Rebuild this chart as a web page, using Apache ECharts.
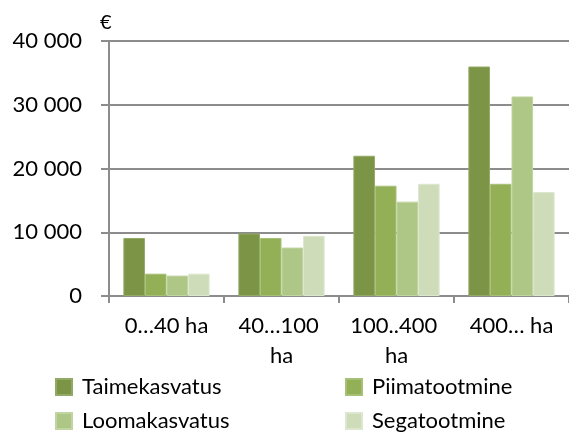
<!DOCTYPE html>
<html>
<head>
<meta charset="utf-8">
<script src="https://cdn.jsdelivr.net/npm/echarts@6/dist/echarts.min.js"></script>
<style>
html,body{margin:0;padding:0;background:#fff;}
#chart{width:569px;height:434px;}
</style>
</head>
<body>
<div id="chart"></div>
<script>
var categories = ['0…40 ha', '40…100 ha', '100..400 ha', '400… ha'];
var seriesNames = ['Taimekasvatus', 'Piimatootmine', 'Loomakasvatus', 'Segatootmine'];
var taimekasvatus = [9100, 9800, 22000, 36000];
var piimatootmine = [3500, 9100, 17300, 17600];
var loomakasvatus = [3200, 7600, 14800, 31300];
var segatootmine = [3500, 9450, 17600, 16300];
var yTicks = [0, 10000, 20000, 30000, 40000];
var colors = ['#7b9445', '#93b057', '#aec686', '#cfdcb9'];
var borderColors = ['#93aa66', '#a7c077', '#c0d5a0', '#dde7cf'];

var seriesData = [taimekasvatus, piimatootmine, loomakasvatus, segatootmine];
var FONT = 'Lato';

function fmt(v) {
  var s = String(v);
  return s.replace(/\B(?=(\d{3})+(?!\d))/g, ' ');
}

var chart = echarts.init(document.getElementById('chart'), null, {renderer: 'canvas'});
var series = seriesNames.map(function (n, i) {
  return {
    name: n,
    type: 'bar',
    data: seriesData[i],
    barGap: '0%',
    barCategoryGap: '25%',
    itemStyle: {color: colors[i], borderColor: borderColors[i], borderWidth: 1},
    emphasis: {disabled: true}
  };
});

var legendText = {color: '#000', fontFamily: FONT, fontSize: 22, lineHeight: 22, padding: [0, 0, 0, 5]};

chart.setOption({
  animation: false,
  textStyle: {fontFamily: FONT},
  grid: {left: 109, top: 41, width: 469, height: 255, containLabel: false},
  xAxis: {
    type: 'category',
    data: categories,
    axisLine: {lineStyle: {color: '#8c8c8c', width: 2}},
    axisTick: {show: true, length: 7, lineStyle: {color: '#8c8c8c', width: 2}},
    axisLabel: {
      color: '#000', fontFamily: FONT, fontSize: 22, margin: 15,
      lineHeight: 30, width: 108, overflow: 'break', interval: 0
    }
  },
  yAxis: {
    type: 'value',
    min: yTicks[0],
    max: yTicks[yTicks.length - 1],
    interval: 10000,
    name: '€',
    nameLocation: 'end',
    nameGap: 8,
    nameTextStyle: {color: '#000', fontFamily: FONT, fontSize: 20, align: 'left', padding: [0, 0, 0, -9]},
    axisLine: {show: true, lineStyle: {color: '#8c8c8c', width: 2}},
    axisTick: {show: true, length: 8, lineStyle: {color: '#8c8c8c', width: 2}},
    splitLine: {show: true, lineStyle: {color: '#8c8c8c', width: 2}},
    axisLabel: {color: '#000', fontFamily: FONT, fontSize: 22, margin: 27, formatter: function (v) { return fmt(v); }}
  },
  legend: [
    {
      data: [seriesNames[0], seriesNames[2]],
      orient: 'vertical',
      left: 55, top: 376, height: 70, padding: 0,
      itemWidth: 16, itemHeight: 16, itemGap: 12,
      icon: 'rect',
      selectedMode: false,
      textStyle: legendText
    },
    {
      data: [seriesNames[1], seriesNames[3]],
      orient: 'vertical',
      left: 345, top: 376, height: 70, padding: 0,
      itemWidth: 16, itemHeight: 16, itemGap: 12,
      icon: 'rect',
      selectedMode: false,
      textStyle: legendText
    }
  ],
  series: series
});
</script>
</body>
</html>
